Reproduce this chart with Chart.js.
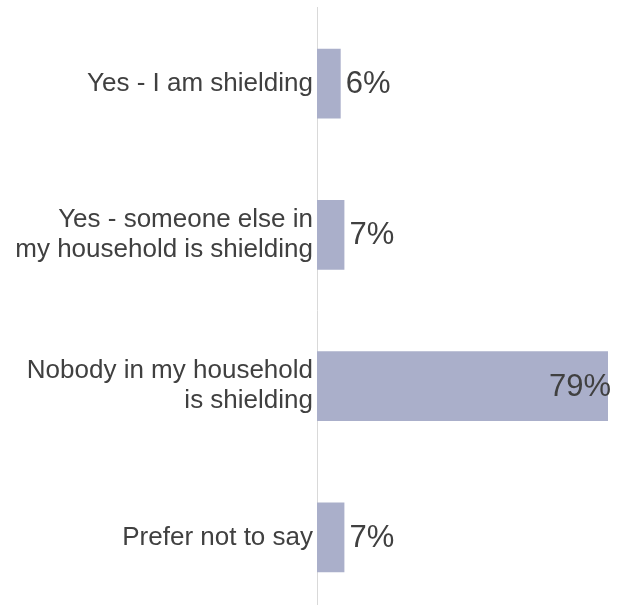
<!DOCTYPE html>
<html>
<head>
<meta charset="utf-8">
<script src="https://cdn.jsdelivr.net/npm/chart.js@4"></script>
<style>
  html, body { margin: 0; padding: 0; overflow: hidden; background: #fff; }
  #wrap { width: 627px; height: 643px; margin-top: -11px; position: relative; }
</style>
</head>
<body>
<div id="wrap"><canvas id="grafico"></canvas></div>
<script>
// categorias e valores (%)
const categorias = [
    ["Yes - I am shielding"],
    ["Yes - someone else in", "my household is shielding"],
    ["Nobody in my household", "is shielding"],
    ["Prefer not to say"]
];
const valores = [6.4, 7.4, 78.6, 7.4];

const fonte = "'Liberation Sans', Arial, sans-serif";

// plugin simples para escrever o valor ao lado da barra
const rotulosValores = {
    id: "rotulosValores",
    afterDatasetsDraw(chart) {
        const ctx = chart.ctx;
        const area = chart.chartArea;
        const meta = chart.getDatasetMeta(0);
        ctx.save();
        ctx.font = "31px " + fonte;
        ctx.fillStyle = "#404040";
        ctx.textBaseline = "middle";
        meta.data.forEach((barra, i) => {
            const texto = Math.round(valores[i]) + "%";
            const largura = ctx.measureText(texto).width;
            if (barra.x + 5 + largura > area.right + 3) {
                ctx.textAlign = "right";
                ctx.fillText(texto, barra.x + 3, barra.y + 1);
            } else {
                ctx.textAlign = "left";
                ctx.fillText(texto, barra.x + 5, barra.y + 1);
            }
        });
        ctx.restore();
    }
};

new Chart(document.getElementById("grafico").getContext("2d"), {
    type: "bar",
    data: {
        labels: categorias,
        datasets: [{
            data: valores,
            backgroundColor: "#aaafca",
            barPercentage: 0.46,
            categoryPercentage: 1
        }]
    },
    options: {
        indexAxis: "y",
        responsive: true,
        maintainAspectRatio: false,
        animation: false,
        layout: { padding: { top: 0, right: 19, bottom: 0, left: 0 } },
        plugins: {
            legend: { display: false },
            tooltip: { enabled: false }
        },
        scales: {
            x: {
                display: false,
                min: 0,
                max: 78.6
            },
            y: {
                afterFit(escala) { escala.width = 317; },
                grid: { display: false, drawTicks: false },
                border: { display: true, color: "#d9d9d9", width: 1 },
                ticks: {
                    color: "#404040",
                    padding: 4,
                    font: { family: fonte, size: 26, lineHeight: 1.15 }
                }
            }
        }
    },
    plugins: [rotulosValores]
});
</script>
</body>
</html>
